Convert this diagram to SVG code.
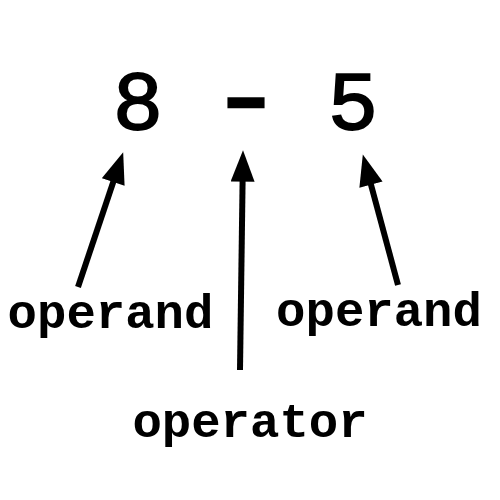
<svg xmlns="http://www.w3.org/2000/svg" width="500" height="500" viewBox="0 0 500 500">
<defs>
<style>
.big{font-family:"Liberation Mono","DejaVu Sans Mono",monospace;font-weight:normal;font-size:84px;fill:#000;stroke:#000;stroke-width:1.8;text-anchor:middle}
.lbl{font-family:"Liberation Mono","Courier New",monospace;font-weight:bold;font-size:49px;fill:#000;text-anchor:middle}
.arr{stroke:#000;stroke-width:6;fill:none;marker-end:url(#ah)}
</style>
<marker id="ah" markerUnits="userSpaceOnUse" markerWidth="32" markerHeight="24" refX="15" refY="11.5" orient="auto" viewBox="0 0 30 23">
<path d="M0,0 L30,11.5 L0,23 z" fill="#000"/>
</marker>
</defs>
<rect width="500" height="500" fill="#fff"/>
<g id="expr">
<text class="big" x="138" y="129">8</text>
<text class="big" x="0" y="23" transform="translate(246,102.5) scale(1.5,1.3)">-</text>
<text class="big" x="353" y="129">5</text>
</g>
<g id="connectors">
<line class="arr" x1="78" y1="287" x2="118.2" y2="167.2"/>
<line class="arr" x1="240" y1="370" x2="242.8" y2="166"/>
<line class="arr" x1="398" y1="285" x2="366.9" y2="169.5"/>
</g>
<g id="operand-left"><text class="lbl" x="110.5" y="328">operand</text></g>
<g id="operand-right"><text class="lbl" x="379" y="326">operand</text></g>
<g id="operator"><text class="lbl" x="250" y="437">operator</text></g>
</svg>
